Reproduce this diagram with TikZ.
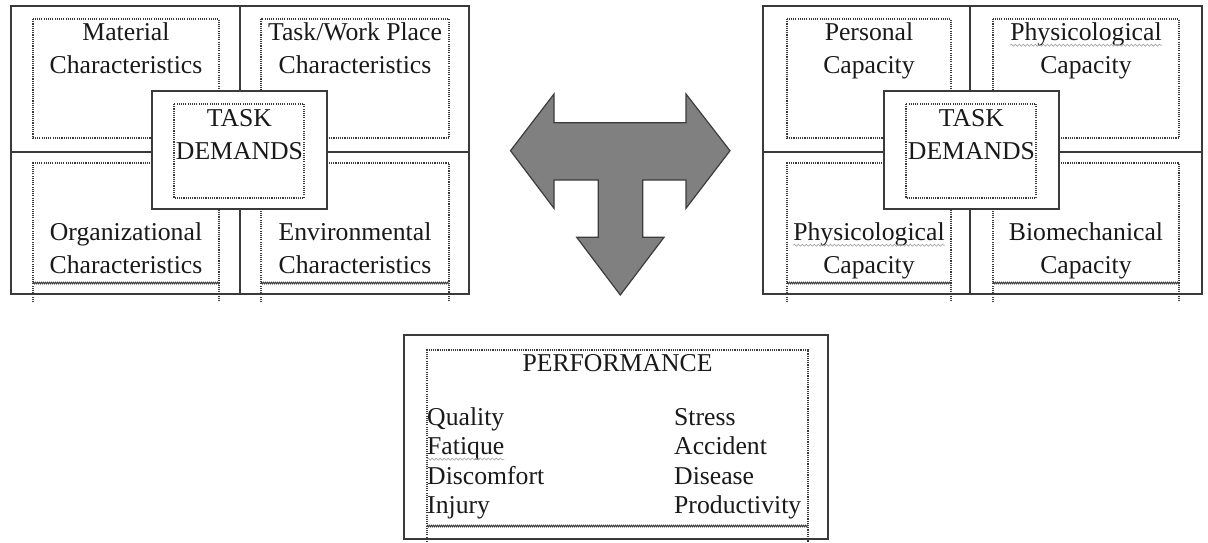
\documentclass[tikz,border=0pt]{standalone}
\usepackage{fontspec}
\setmainfont{Liberation Serif}
\usetikzlibrary{decorations.pathmorphing}
\definecolor{framegray}{HTML}{3A3A3A}
\definecolor{arrowfill}{HTML}{808080}
\definecolor{arrowline}{HTML}{3C3C3C}

\begin{document}
\begin{tikzpicture}[x=1pt,y=-1pt,
    frame/.style={draw=framegray,line width=1.8pt},
    dotbox/.style={draw=framegray,line width=1.2pt,dash pattern=on 1.1pt off 1.1pt},
    cutline/.style={draw=framegray,line width=0.9pt,decorate,
      decoration={zigzag,amplitude=0.8pt,segment length=2pt}},
    spell/.style={draw=gray!70,line width=0.7pt,decorate,
      decoration={snake,amplitude=1pt,segment length=4pt}},
    lbl/.style={anchor=base,inner sep=0pt,align=center,text=black!90,
      font=\fontsize{25.7}{32.6}\selectfont},
    item/.style={anchor=base west,inner sep=0pt,text=black!90,
      font=\fontsize{25.7}{29.5}\selectfont}]
      \useasboundingbox (0,0) rectangle (1208,542);
      %
      % task side (nodes sit on the baseline of their last line)
      \draw[frame] (11,6) rectangle (469,294);
      \draw[frame] (240,6) -- (240,294);
      \draw[frame] (11,152) -- (469,152);
      \draw[dotbox] (33,19) rectangle (219,138);
      \draw[dotbox] (261,19) rectangle (449,138);
      \draw[dotbox] (33,302) -- (33,163) -- (219,163) -- (219,302);
      \draw[dotbox] (261,302) -- (261,163) -- (449,163) -- (449,302);
      \draw[cutline] (33,283) -- (219,283);
      \draw[cutline] (261,283) -- (449,283);
      \draw[frame,fill=white] (152,91) rectangle (327,209);
      \draw[dotbox] (174,104) rectangle (304,198);
      %
      \node[lbl] (material) at (126,73.3) {Material\\Characteristics};
      \node[lbl] (workplace) at (355,73.3) {Task/Work Place\\Characteristics};
      \node[lbl] (organiz) at (126,273.3) {Organizational\\Characteristics};
      \node[lbl] (environ) at (355,273.3) {Environmental\\Characteristics};
      \node[lbl] (taskL) at (239.5,159.3) {TASK\\DEMANDS};
      %
      % capacity side
      \draw[frame] (763,6) rectangle (1202,294);
      \draw[frame] (970,6) -- (970,294);
      \draw[frame] (763,152) -- (1202,152);
      \draw[dotbox] (787,19) rectangle (951,138);
      \draw[dotbox] (993,19) rectangle (1179,138);
      \draw[dotbox] (787,302) -- (787,163) -- (951,163) -- (951,302);
      \draw[dotbox] (993,302) -- (993,163) -- (1179,163) -- (1179,302);
      \draw[cutline] (787,283) -- (951,283);
      \draw[cutline] (993,283) -- (1179,283);
      \draw[frame,fill=white] (884,91) rectangle (1059,209);
      \draw[dotbox] (906,104) rectangle (1036,198);
      %
      \node[lbl] (personal) at (869,73.3) {Personal\\Capacity};
      \node[lbl] (physioA) at (1086,73.3) {Physicological\\Capacity};
      \node[lbl] (physioB) at (869,273.3) {Physicological\\Capacity};
      \node[lbl] (biomech) at (1086,273.3) {Biomechanical\\Capacity};
      \node[lbl] (taskR) at (971.5,159.3) {TASK\\DEMANDS};
      \draw[spell] ([yshift=28.1pt]physioA.base west) -- ([yshift=28.1pt]physioA.base east);
      \draw[spell] ([yshift=28.1pt]physioB.base west) -- ([yshift=28.1pt]physioB.base east);
      %
      % three way arrow
      \draw[fill=arrowfill,draw=arrowline,line width=1.2pt,line join=miter]
        (510.5,150.7) -- (554,94) -- (554,122.7) -- (686,122.7) -- (686,94)
        -- (730,150.7) -- (686,208.3) -- (686,180) -- (642.7,180)
        -- (642.7,237.3) -- (664,237.3) -- (620.3,295) -- (576.7,237.3)
        -- (598.3,237.3) -- (598.3,180) -- (554,180) -- (554,208.3) -- cycle;
      %
      % performance
      \draw[frame] (404,335) rectangle (828,539);
      \draw[dotbox] (427,542) -- (427,350) -- (808,350) -- (808,542);
      \draw[cutline] (427,526) -- (808,526);
      %
      \node[lbl] (perf) at (617.5,371.7) {PERFORMANCE};
      \node[item] (quality) at (427,425) {Quality};
      \node[item] (fatique) at (427,454.5) {Fatique};
      \node[item] (discomf) at (427,484) {Discomfort};
      \node[item] (injury) at (427,513.5) {Injury};
      \node[item] (stress) at (674,425) {Stress};
      \node[item] (accident) at (674,454.5) {Accident};
      \node[item] (disease) at (674,484) {Disease};
      \node[item] (product) at (674,513.5) {Productivity};
      \draw[spell] ([yshift=-4.5pt]fatique.base west) -- ([yshift=-4.5pt]fatique.base east);
    \end{tikzpicture}
\end{document}
